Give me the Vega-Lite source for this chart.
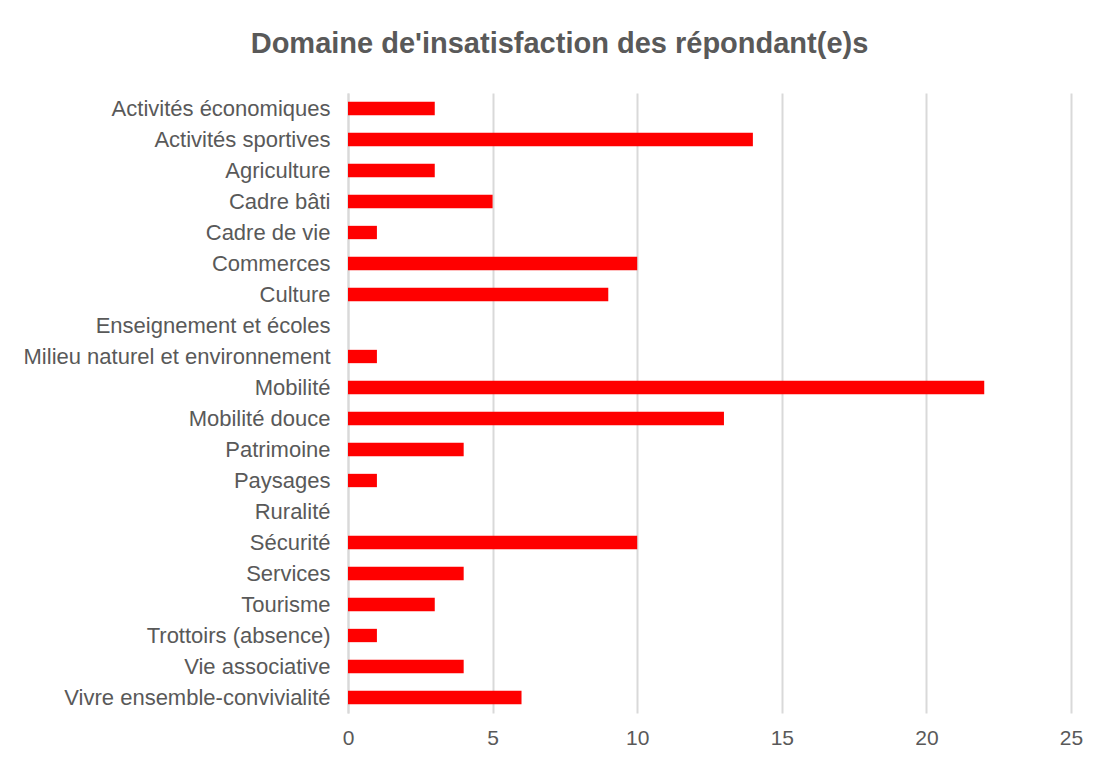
{
  "$schema": "https://vega.github.io/schema/vega-lite/v6.json",
  "width": 723,
  "height": 620,
  "autosize": {"type": "none"},
  "padding": {"left": 348, "top": 93, "right": 26, "bottom": 47},
  "background": "white",
  "title": {
    "text": "Domaine de'insatisfaction des répondant(e)s",
    "anchor": "middle",
    "frame": "group",
    "dx": -150,
    "offset": 11,
    "baseline": "alphabetic",
    "font": "Liberation Sans",
    "fontSize": 29,
    "fontWeight": "bold",
    "color": "#595959"
  },
  "data": {
    "values": [
      {"domaine": "Activités économiques", "n": 3},
      {"domaine": "Activités sportives", "n": 14},
      {"domaine": "Agriculture", "n": 3},
      {"domaine": "Cadre bâti", "n": 5},
      {"domaine": "Cadre de vie", "n": 1},
      {"domaine": "Commerces", "n": 10},
      {"domaine": "Culture", "n": 9},
      {"domaine": "Enseignement et écoles", "n": 0},
      {"domaine": "Milieu naturel et environnement", "n": 1},
      {"domaine": "Mobilité", "n": 22},
      {"domaine": "Mobilité douce", "n": 13},
      {"domaine": "Patrimoine", "n": 4},
      {"domaine": "Paysages", "n": 1},
      {"domaine": "Ruralité", "n": 0},
      {"domaine": "Sécurité", "n": 10},
      {"domaine": "Services", "n": 4},
      {"domaine": "Tourisme", "n": 3},
      {"domaine": "Trottoirs (absence)", "n": 1},
      {"domaine": "Vie associative", "n": 4},
      {"domaine": "Vivre ensemble-convivialité", "n": 6}
    ]
  },
  "mark": {"type": "bar", "color": "#FF0000"},
  "encoding": {
    "y": {
      "field": "domaine",
      "type": "nominal",
      "sort": null,
      "scale": {"paddingInner": 0.57, "paddingOuter": 0.285},
      "axis": {
        "title": null,
        "ticks": false,
        "domain": true,
        "domainColor": "#d9d9d9",
        "domainWidth": 2,
        "labelFont": "Liberation Sans",
        "labelFontSize": 22,
        "labelColor": "#595959",
        "labelPadding": 18,
        "labelLimit": 400
      }
    },
    "x": {
      "field": "n",
      "type": "quantitative",
      "scale": {"domain": [0, 25], "nice": false},
      "axis": {
        "title": null,
        "values": [0, 5, 10, 15, 20, 25],
        "ticks": false,
        "domain": false,
        "grid": true,
        "gridColor": "#d9d9d9",
        "gridWidth": 2,
        "labelFlush": false,
        "labelFont": "Liberation Sans",
        "labelFontSize": 21,
        "labelColor": "#595959",
        "labelPadding": 14
      }
    }
  },
  "config": {"view": {"stroke": null}}
}
